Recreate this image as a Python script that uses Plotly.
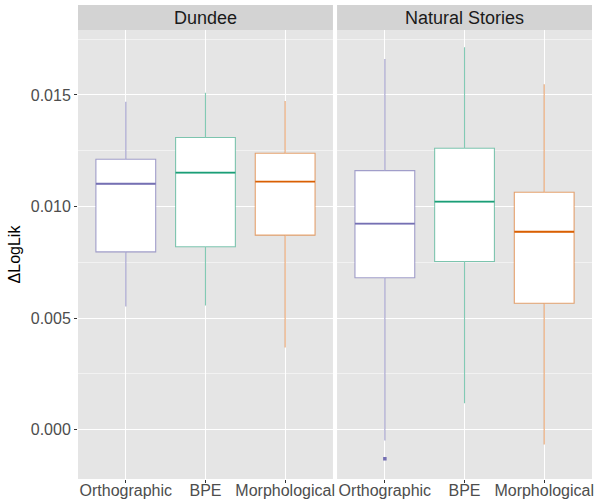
import plotly.graph_objects as go
from plotly.subplots import make_subplots

# values
panels = ["Dundee", "Natural Stories"]
tokenizers = ["Orthographic", "BPE", "Morphological"]
colors = ["#7570B3", "#1B9E77", "#D95F02"]
faded = ["rgba(117,112,179,0.65)", "rgba(27,158,119,0.55)", "rgba(217,95,2,0.55)"]

dundee_low = [0.00552, 0.00557, 0.00368]
dundee_q1 = [0.00797, 0.00820, 0.00872]
dundee_med = [0.01102, 0.01152, 0.01112]
dundee_q3 = [0.01212, 0.01309, 0.01239]
dundee_high = [0.01470, 0.01510, 0.01473]

ns_low = [-0.00048, 0.00119, -0.00066]
ns_q1 = [0.00681, 0.00754, 0.00567]
ns_med = [0.00923, 0.01022, 0.00887]
ns_q3 = [0.01161, 0.01261, 0.01064]
ns_high = [0.01661, 0.01714, 0.01548]

ns_outlier_x = ["Orthographic"]
ns_outlier_y = [-0.00130]

stats = {
    "Dundee": (dundee_low, dundee_q1, dundee_med, dundee_q3, dundee_high),
    "Natural Stories": (ns_low, ns_q1, ns_med, ns_q3, ns_high),
}

fig = make_subplots(rows=1, cols=2, shared_yaxes=True, horizontal_spacing=0.008)

for col, panel in enumerate(panels, start=1):
    low, q1, med, q3, high = stats[panel]
    for i, tok in enumerate(tokenizers):
        fig.add_trace(
            go.Box(
                x=[tok],
                lowerfence=[low[i]],
                q1=[q1[i]],
                median=[med[i]],
                q3=[q3[i]],
                upperfence=[high[i]],
                width=0.75,
                whiskerwidth=0,
                fillcolor="white",
                line=dict(color=faded[i], width=1.1),
                showlegend=False,
                hoverinfo="skip",
            ),
            row=1, col=col,
        )
        # darker median bar drawn on top
        fig.add_trace(
            go.Box(
                x=[tok],
                lowerfence=[med[i]],
                q1=[med[i]],
                median=[med[i]],
                q3=[med[i]],
                upperfence=[med[i]],
                width=0.75,
                whiskerwidth=0,
                fillcolor="rgba(0,0,0,0)",
                line=dict(color=colors[i], width=1.8),
                showlegend=False,
                hoverinfo="skip",
            ),
            row=1, col=col,
        )

fig.add_trace(
    go.Scatter(
        x=ns_outlier_x,
        y=ns_outlier_y,
        mode="markers",
        marker=dict(color=colors[0], size=3.5, symbol="square"),
        showlegend=False,
        hoverinfo="skip",
    ),
    row=1, col=2,
)

font_family = "Liberation Sans, Arial, sans-serif"
strip_h = 25 / 449

for col, panel in enumerate(panels, start=1):
    xr = "x" if col == 1 else "x2"
    yr = "y" if col == 1 else "y2"
    fig.add_shape(
        type="rect", xref=f"{xr} domain", yref=f"{yr} domain",
        x0=0, x1=1, y0=1, y1=1 + strip_h,
        fillcolor="#D3D3D3", line_width=0, layer="below",
    )
    fig.add_annotation(
        text=panel, xref=f"{xr} domain", yref=f"{yr} domain",
        x=0.5, y=1 + strip_h / 2, showarrow=False, yanchor="middle",
        font=dict(size=18, color="#1A1A1A", family=font_family),
    )

fig.update_xaxes(
    categoryorder="array", categoryarray=tokenizers,
    range=[-0.6, 2.6],
    showgrid=True, gridcolor="white", gridwidth=1.1,
    ticks="outside", ticklen=3, tickcolor="#333333",
    ticklabelstandoff=-6,
    tickfont=dict(size=16, color="#4D4D4D"),
    zeroline=False, showline=False,
)
fig.update_yaxes(
    range=[-0.002207, 0.017909],
    tickvals=[0.0, 0.005, 0.010, 0.015],
    ticktext=["0.000", "0.005", "0.010", "0.015"],
    showgrid=True, gridcolor="white", gridwidth=1.1,
    minor=dict(dtick=0.0025, tick0=0, showgrid=True, gridcolor="#F2F2F2", gridwidth=0.5),
    zeroline=False, showline=False,
    tickfont=dict(size=16, color="#4D4D4D"),
)
fig.update_yaxes(
    ticks="outside", ticklen=3, tickcolor="#333333",
    title=dict(text="ΔLogLik", font=dict(size=16, color="black"), standoff=6),
    row=1, col=1,
)

fig.update_layout(
    width=597, height=499,
    margin=dict(l=78, r=5, t=30, b=20, autoexpand=False),
    paper_bgcolor="white",
    plot_bgcolor="#E5E5E5",
    boxmode="overlay",
    font=dict(family=font_family),
    showlegend=False,
)

# drop the default 8px page margin so the figure sits at the window corner
fig.write_html(
    "out.html",
    config={"displayModeBar": False},
    post_script="document.body.style.margin='0px';",
)
